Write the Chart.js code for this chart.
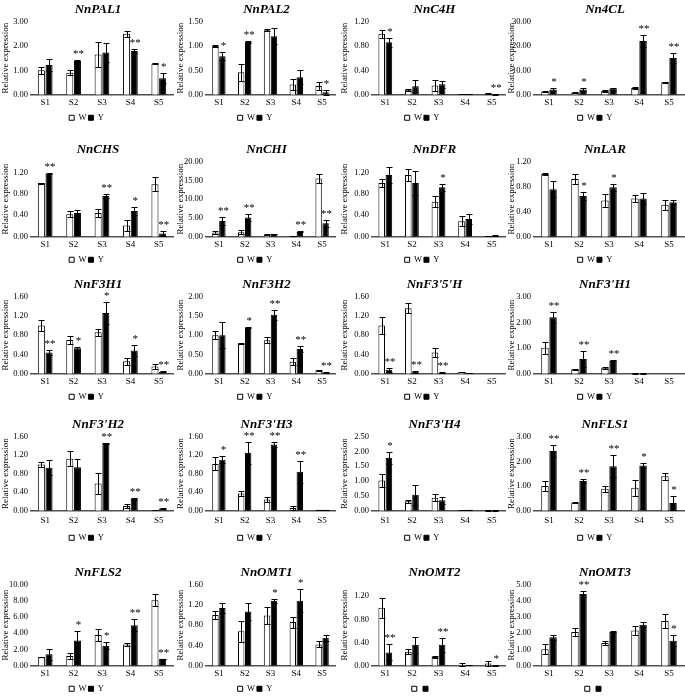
<!DOCTYPE html>
<html>
<head>
<meta charset="utf-8">
<script src="https://cdn.jsdelivr.net/npm/chart.js@4.4.1/dist/chart.umd.min.js"></script>
<style>
  body { margin: 0; background: #fff; }
  #grade { position: relative; width: 685px; height: 696px; overflow: hidden; }
  #grade canvas { position: absolute; }
</style>
</head>
<body>
<div id="grade"></div>
<script>
// estágios e genes
const estagios = ['S1', 'S2', 'S3', 'S4', 'S5'];
const genes = ['NnPAL1', 'NnPAL2', 'NnC4H', 'Nn4CL', 'NnCHS', 'NnCHI', 'NnDFR', 'NnLAR',
  'NnF3H1', 'NnF3H2', "NnF3'5'H", "NnF3'H1", "NnF3'H2", "NnF3'H3", "NnF3'H4", 'NnFLS1',
  'NnFLS2', 'NnOMT1', 'NnOMT2', 'NnOMT3'];

// eixo y de cada gráfico
const maximos = [3, 1.5, 1.2, 30, 1.4, 20, 1.4, 1.2, 1.6, 2, 1.6, 3, 1.6, 1.6, 2.5, 3, 10, 1.6, 1.4, 5];
const passos = [0.5, 0.5, 0.2, 5, 0.2, 5, 0.2, 0.2, 0.2, 0.5, 0.2, 0.5, 0.2, 0.2, 0.5, 0.5, 2, 0.2, 0.2, 1];

// série W (branco)
const valoresW = [
  [1.00, 0.90, 1.65, 2.50, 1.28],
  [1.00, 0.46, 1.32, 0.21, 0.18],
  [1.00, 0.08, 0.15, 0.01, 0.02],
  [1.2, 0.8, 1.5, 2.8, 5.1],
  [1.00, 0.42, 0.44, 0.21, 0.98],
  [1.1, 1.2, 0.6, 0.2, 15.5],
  [1.00, 1.15, 0.65, 0.29, 0.01],
  [1.00, 0.92, 0.58, 0.61, 0.51],
  [1.00, 0.70, 0.86, 0.26, 0.15],
  [1.00, 0.79, 0.87, 0.31, 0.09],
  [1.00, 1.36, 0.44, 0.035, 0],
  [1.01, 0.17, 0.23, 0.01, 0],
  [1.00, 1.12, 0.59, 0.10, 0.015],
  [1.01, 0.37, 0.24, 0.06, 0.02],
  [1.02, 0.32, 0.44, 0.02, 0.005],
  [1.00, 0.32, 0.89, 0.93, 1.39],
  [1.04, 1.2, 3.8, 2.6, 8.08],
  [1.00, 0.68, 0.99, 0.86, 0.42],
  [1.00, 0.24, 0.15, 0.005, 0.04],
  [1.02, 2.08, 1.40, 2.17, 2.75]
];
const errosW = [
  [0.14, 0.11, 0.52, 0.13, 0.01],
  [0.02, 0.17, 0.02, 0.11, 0.09],
  [0.07, 0.02, 0.09, 0.003, 0.003],
  [0.2, 0.2, 0.5, 0.3, 0.1],
  [0.01, 0.05, 0.08, 0.11, 0.13],
  [0.3, 0.5, 0.1, 0.05, 1.3],
  [0.08, 0.12, 0.10, 0.09, 0.005],
  [0.01, 0.08, 0.10, 0.05, 0.08],
  [0.12, 0.08, 0.07, 0.07, 0.06],
  [0.11, 0.01, 0.08, 0.09, 0.01],
  [0.17, 0.11, 0.10, 0.01, 0],
  [0.24, 0.01, 0.04, 0.005, 0],
  [0.06, 0.16, 0.22, 0.04, 0.003],
  [0.14, 0.06, 0.06, 0.05, 0.005],
  [0.23, 0.05, 0.12, 0.005, 0.002],
  [0.19, 0.02, 0.12, 0.33, 0.15],
  [0.02, 0.4, 0.7, 0.2, 0.75],
  [0.08, 0.21, 0.16, 0.11, 0.06],
  [0.17, 0.04, 0.01, 0.035, 0.04],
  [0.30, 0.24, 0.10, 0.28, 0.45]
];

// série Y (preto)
const valoresY = [
  [1.22, 1.38, 1.73, 1.79, 0.68],
  [0.79, 1.08, 1.20, 0.36, 0.05],
  [0.86, 0.14, 0.17, 0.01, 0.005],
  [2.1, 2.1, 2.5, 22.0, 15.1],
  [1.17, 0.44, 0.76, 0.48, 0.06],
  [4.2, 5.1, 0.7, 1.35, 3.6],
  [1.15, 1.00, 0.92, 0.33, 0.02],
  [0.76, 0.65, 0.79, 0.61, 0.55],
  [0.44, 0.53, 1.26, 0.48, 0.04],
  [1.00, 1.20, 1.53, 0.64, 0.04],
  [0.08, 0.04, 0.02, 0.01, 0],
  [2.20, 0.57, 0.51, 0.01, 0],
  [0.93, 0.94, 1.46, 0.25, 0.05],
  [1.10, 1.25, 1.43, 0.84, 0.02],
  [1.79, 0.54, 0.35, 0.03, 0.005],
  [2.42, 1.20, 1.80, 1.83, 0.31],
  [1.4, 3.1, 2.46, 5.0, 0.85],
  [1.14, 1.07, 1.28, 1.28, 0.55],
  [0.23, 0.36, 0.36, 0.01, 0.005],
  [1.75, 4.42, 2.10, 2.52, 1.54]
];
const errosY = [
  [0.26, 0.05, 0.40, 0.07, 0.21],
  [0.08, 0.02, 0.16, 0.14, 0.05],
  [0.07, 0.10, 0.06, 0.003, 0.002],
  [0.6, 0.7, 0.4, 2.5, 2.1],
  [0.01, 0.06, 0.03, 0.08, 0.04],
  [1.1, 1.0, 0.1, 0.1, 0.9],
  [0.15, 0.22, 0.06, 0.10, 0.01],
  [0.13, 0.06, 0.06, 0.09, 0.03],
  [0.06, 0.03, 0.22, 0.11, 0.01],
  [0.33, 0.02, 0.13, 0.09, 0.01],
  [0.04, 0.02, 0.01, 0.005, 0],
  [0.22, 0.30, 0.03, 0.005, 0],
  [0.16, 0.17, 0.01, 0.02, 0.01],
  [0.08, 0.24, 0.06, 0.24, 0.005],
  [0.20, 0.34, 0.12, 0.01, 0.002],
  [0.23, 0.09, 0.44, 0.11, 0.27],
  [0.7, 1.2, 0.45, 0.7, 0.02],
  [0.10, 0.16, 0.04, 0.23, 0.06],
  [0.14, 0.14, 0.12, 0.005, 0.002],
  [0.14, 0.16, 0.05, 0.15, 0.33]
];

// significância
const asteriscos = [
  ['', '**', '', '**', '*'],
  ['*', '**', '', '', '*'],
  ['*', '', '', '', '**'],
  ['*', '*', '', '**', '**'],
  ['**', '', '**', '*', '**'],
  ['**', '**', '', '**', '**'],
  ['', '', '*', '', ''],
  ['', '*', '*', '', ''],
  ['**', '*', '*', '*', '**'],
  ['', '*', '**', '**', '**'],
  ['**', '**', '**', '', ''],
  ['**', '**', '**', '', ''],
  ['', '', '**', '**', '**'],
  ['*', '**', '**', '**', ''],
  ['*', '', '', '', ''],
  ['**', '**', '**', '*', '*'],
  ['', '*', '*', '**', '**'],
  ['', '', '*', '*', ''],
  ['**', '', '**', '', '*'],
  ['', '**', '', '', '*']
];
const legendaSemTexto = ['NnOMT2', 'NnOMT3'];

// grelha de painéis
const colunaX = [0, 175, 339, 506];
const colunaLargura = [174, 161, 167, 179];
const eixoLargura = [31, 31, 33, 28];
const linhaY = [0, 140, 275, 415, 563];
const linhaAltura = [132, 134, 136, 137, 140];
const folgaRotulos = [3, 3, 3, 5, 3];

const fonte = "'Liberation Serif', 'Times New Roman', serif";
Chart.defaults.color = '#000';
Chart.defaults.font.family = fonte;

const barrasErro = {
  id: 'barrasErro',
  afterDatasetsDraw(chart) {
    const c = chart.ctx;
    const y = chart.scales.y;
    c.save();
    c.strokeStyle = '#000';
    c.lineWidth = 1;
    chart.data.datasets.forEach((ds, i) => {
      chart.getDatasetMeta(i).data.forEach((barra, k) => {
        const v = ds.data[k], e = ds.erros[k];
        if (!e) return;
        const topo = Math.round(y.getPixelForValue(v + e)) + 0.5;
        const base = Math.round(y.getPixelForValue(Math.max(v - e, 0))) + 0.5;
        const x = Math.round(barra.x) + 0.5;
        c.beginPath();
        c.moveTo(x, topo); c.lineTo(x, base);
        c.moveTo(x - 3, topo); c.lineTo(x + 3, topo);
        c.moveTo(x - 3, base); c.lineTo(x + 3, base);
        c.stroke();
      });
    });
    // asteriscos acima da barra Y
    const dsY = chart.data.datasets[1];
    const metaY = chart.getDatasetMeta(1);
    c.fillStyle = '#000';
    c.font = '11px ' + fonte;
    c.textAlign = 'center';
    c.textBaseline = 'alphabetic';
    dsY.marcas.forEach((m, k) => {
      if (!m) return;
      const topo = y.getPixelForValue(dsY.data[k] + dsY.erros[k]);
      c.fillText(m, metaY.data[k].x + 1, topo - 3);
    });
    c.restore();
  }
};

const tituloGene = {
  id: 'tituloGene',
  afterDraw(chart) {
    const a = chart.chartArea;
    const c = chart.ctx;
    c.save();
    c.fillStyle = '#000';
    c.font = 'italic bold 13px ' + fonte;
    c.textAlign = 'center';
    c.textBaseline = 'middle';
    c.fillText(chart.config.options.nomeGene, (a.left + a.right) / 2 - 4, 10);
    c.restore();
  }
};

const grade = document.getElementById('grade');

genes.forEach((gene, i) => {
  const col = i % 4, lin = Math.floor(i / 4);
  const tela = document.createElement('canvas');
  tela.width = colunaLargura[col];
  tela.height = linhaAltura[lin];
  tela.style.left = colunaX[col] + 'px';
  tela.style.top = linhaY[lin] + 'px';
  grade.appendChild(tela);

  const semTexto = legendaSemTexto.includes(gene);

  new Chart(tela.getContext('2d'), {
    type: 'bar',
    data: {
      labels: estagios,
      datasets: [{
        label: 'W',
        data: valoresW[i],
        erros: errosW[i],
        backgroundColor: '#ffffff',
        borderColor: '#000000',
        borderWidth: 1
      }, {
        label: 'Y',
        data: valoresY[i],
        erros: errosY[i],
        marcas: asteriscos[i],
        backgroundColor: '#000000',
        borderColor: '#000000',
        borderWidth: 1
      }]
    },
    plugins: [barrasErro, tituloGene],
    options: {
      nomeGene: gene,
      responsive: false,
      animation: false,
      devicePixelRatio: 1,
      categoryPercentage: 0.54,
      barPercentage: 0.92,
      layout: {
        padding: { top: 21.6, right: 1, left: 0, bottom: 0 }
      },
      scales: {
        x: {
          grid: { display: false, drawTicks: false },
          border: { display: true, color: '#505050', width: 1.5 },
          ticks: { font: { size: 9 }, padding: folgaRotulos[lin] }
        },
        y: {
          min: 0,
          max: maximos[i],
          grid: { display: false, drawTicks: false },
          border: { display: false },
          ticks: {
            stepSize: passos[i],
            font: { size: 8.5 },
            padding: 3,
            callback: v => v.toFixed(2)
          },
          title: {
            display: true,
            text: 'Relative expression',
            font: { size: 9 },
            padding: 0
          },
          afterFit: s => { s.width = eixoLargura[col]; }
        }
      },
      plugins: {
        title: { display: false },
        tooltip: { enabled: false },
        legend: {
          position: 'bottom',
          onClick: null,
          labels: {
            boxWidth: 5,
            boxHeight: 5,
            padding: 2,
            font: { size: 8.5 },
            generateLabels: chart => {
              const itens = Chart.defaults.plugins.legend.labels.generateLabels(chart);
              return semTexto ? itens.map(it => ({ ...it, text: '' })) : itens;
            }
          }
        }
      }
    }
  });
});
</script>
</body>
</html>
